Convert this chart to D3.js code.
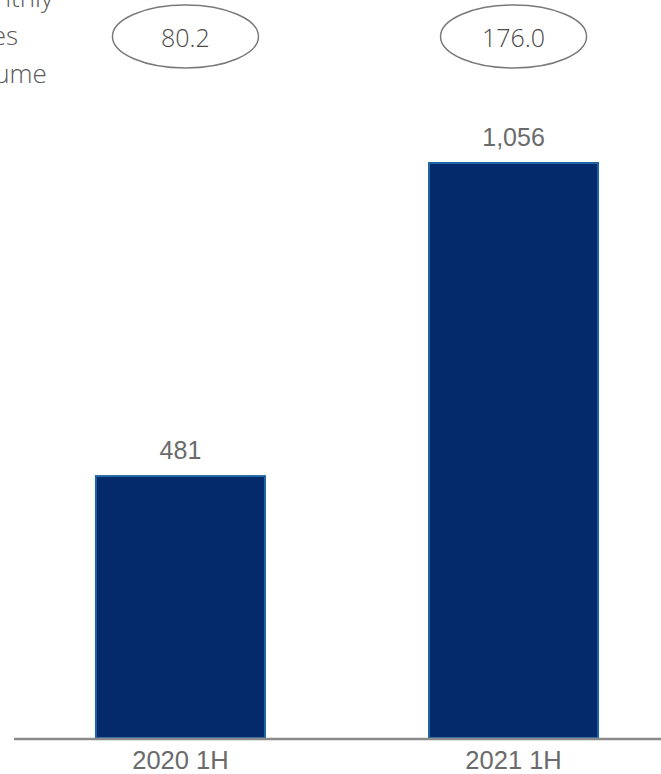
<!DOCTYPE html>
<html>
<head>
<meta charset="utf-8">
<script src="https://cdn.jsdelivr.net/npm/d3@7"></script>
<style>
    html, body { margin: 0; padding: 0; background: #fff; }
    svg { display: block; }
</style>
</head>
<body>
<svg id="chart" width="661" height="774"></svg>
<script>
;((window, document, d3) => {

    'use strict';

    // data
    const categories = ['2020 1H', '2021 1H'];
    const volumes = [481, 1056];
    const monthly_avg = [80.2, 176.0];
    const side_label_lines = ['Average', 'Monthly', 'Sales', 'Volume'];

    const WIDTH = 661;
    const BASE_Y = 738;

    const svg = d3.select('#chart');

    const x = d3.scaleBand()
        .domain(categories)
        .range([14, 680])
        .paddingInner(0.4925)
        .paddingOuter(0.246);

    const y = d3.scaleLinear()
        .domain([0, 1100])
        .range([BASE_Y, BASE_Y - 1100 * 0.5445]);

    const rows = categories.map((c, i) => ({ cat: c, v: volumes[i], avg: monthly_avg[i] }));

    // bars
    svg.append('g').selectAll('rect')
        .data(rows).enter()
        .append('rect')
        .attr('x', d => x(d.cat))
        .attr('y', d => y(d.v))
        .attr('width', x.bandwidth())
        .attr('height', d => y(0) - y(d.v))
        .attr('fill', '#042a6c')
        .attr('stroke', '#1f64a3')
        .attr('stroke-width', 2);

    // value labels
    svg.append('g').selectAll('text')
        .data(rows).enter()
        .append('text')
        .attr('x', d => x(d.cat) + x.bandwidth() / 2)
        .attr('y', d => y(d.v) - 17)
        .attr('text-anchor', 'middle')
        .style('font-family', 'Arial, "Liberation Sans", sans-serif')
        .style('font-size', '25px')
        .style('fill', '#6b6b6b')
        .text(d => d3.format(',')(d.v));

    // axis line
    svg.append('line')
        .attr('x1', 14).attr('x2', WIDTH)
        .attr('y1', BASE_Y + 1).attr('y2', BASE_Y + 1)
        .attr('stroke', '#8a8a8a')
        .attr('stroke-width', 2.5);

    // category labels
    const x_axis = d3.axisBottom(x).tickSize(0).tickPadding(13);
    const gx = svg.append('g')
        .attr('transform', `translate(0, ${BASE_Y})`)
        .call(x_axis);
    gx.select('.domain').remove();
    gx.selectAll('text')
        .style('font-family', 'Arial, "Liberation Sans", sans-serif')
        .style('font-size', '25.5px')
        .style('fill', '#6b6b6b');

    // monthly average ellipses
    const ell = svg.append('g').selectAll('g')
        .data(rows).enter()
        .append('g')
        .attr('transform', (d, i) => `translate(${x(d.cat) + x.bandwidth() / 2 + (i === 0 ? 5 : 0)}, 36.5)`);

    ell.append('ellipse')
        .attr('rx', 73).attr('ry', 31.5)
        .attr('fill', 'none')
        .attr('stroke', '#7a7a7a')
        .attr('stroke-width', 1.5);

    ell.append('text')
        .attr('y', 10)
        .attr('text-anchor', 'middle')
        .style('font-family', '"Open Sans", sans-serif')
        .style('font-weight', 300)
        .style('font-size', '25px')
        .style('fill', '#4a4a4a')
        .text(d => d.avg.toFixed(1));

    // side label, cut off at the left edge as in the reference
    svg.append('text')
        .style('font-family', '"Open Sans", sans-serif')
        .style('font-weight', 300)
        .style('font-size', '26px')
        .style('fill', '#595959')
        .selectAll('tspan')
        .data(side_label_lines).enter()
        .append('tspan')
        .attr('x', -42)
        .attr('y', (d, i) => 7 + (i - 1) * 38)
        .text(d => d);

})(window, document, window.d3);
</script>
</body>
</html>
